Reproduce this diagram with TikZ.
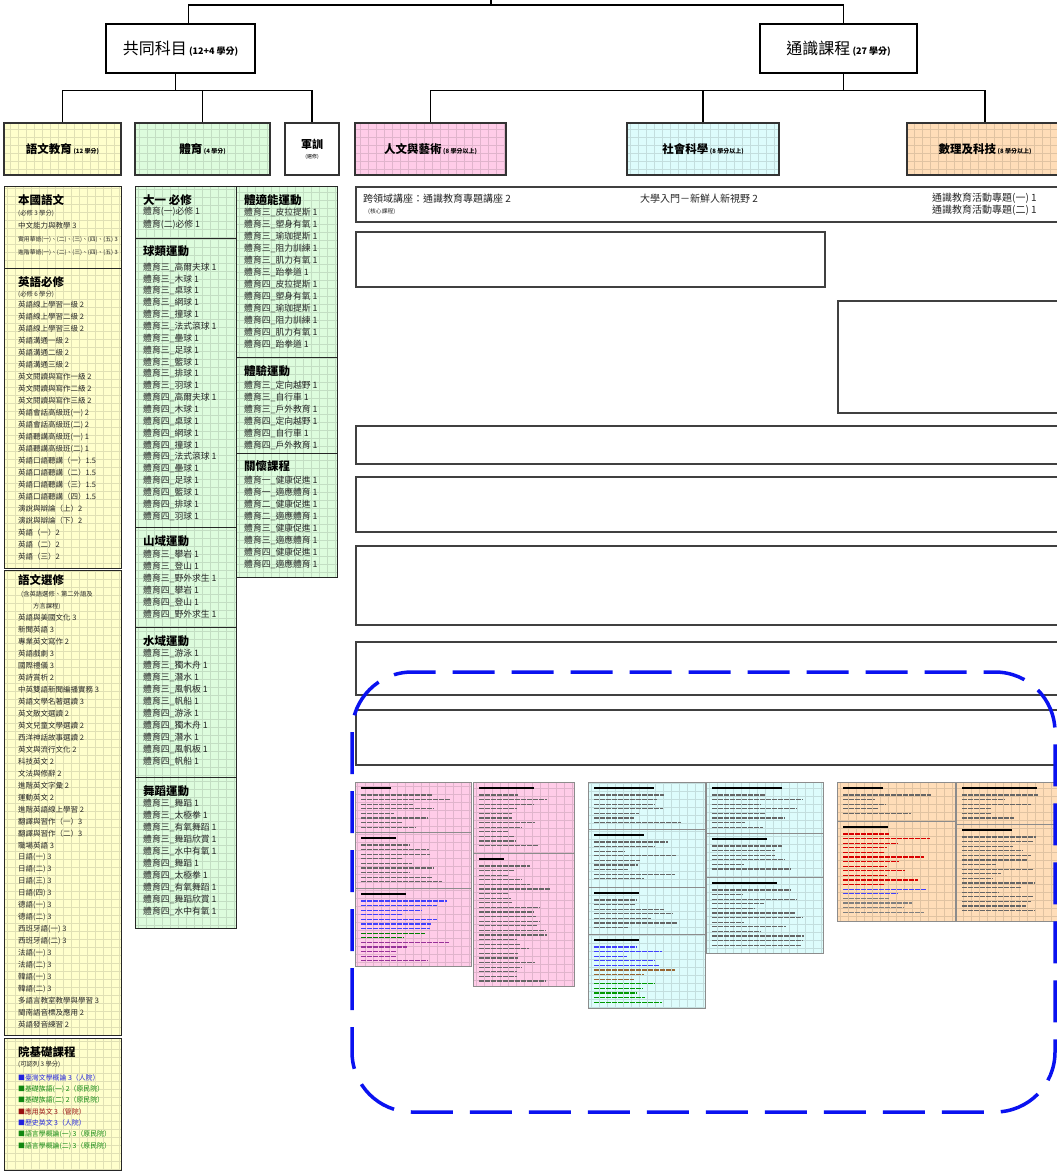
\documentclass[tikz,border=0pt]{standalone}
\usepackage{fontspec}
\setmainfont{Noto Sans CJK TC}
\usetikzlibrary{positioning}

\definecolor{yuwenbg}{HTML}{FFFFCC}
\definecolor{tiyubg}{HTML}{DDFCDD}
\definecolor{renwenbg}{HTML}{FFCCE8}
\definecolor{shehuibg}{HTML}{DDFCFC}
\definecolor{shulibg}{HTML}{FFDDB8}
\definecolor{quanblue}{HTML}{0A12F0}
\definecolor{yjblue}{HTML}{2222DD}
\definecolor{yjgreen}{HTML}{118811}
\definecolor{yjred}{HTML}{991111}

\tikzset{
  gridfill/.style={fill=#1, path picture={\draw[#1!88!black, line width=0.25pt, step=8pt]
      (path picture bounding box.south west) grid (path picture bounding box.north east);}},
  topbox/.style={draw=black, line width=1.1pt, fill=white, minimum height=49pt, inner sep=0pt},
  catbox/.style={draw=black!80, line width=1.6pt, minimum height=52pt, inner sep=0pt, align=center},
  listbox/.style={draw=black!85, line width=1.4pt, inner sep=0pt, anchor=north west},
  emptybox/.style={draw=black!75, line width=2pt, inner sep=0pt, anchor=north west},
  panel/.style={draw=black!45, line width=0.6pt, inner sep=0pt, anchor=north west},
  panelline/.style={draw=black!45, line width=0.6pt},
  head/.style={anchor=west, inner sep=0pt, font=\fontsize{11.5}{12}\selectfont\bfseries},
  item/.style={anchor=west, inner sep=0pt, text=black!85, font=\fontsize{7.5}{8}\selectfont},
  gitem/.style={item, font=\fontsize{8.8}{9}\selectfont},
  small/.style={item, font=\fontsize{6.3}{7}\selectfont},
  yjitem/.style={item, font=\fontsize{6.9}{7}\selectfont},
  tiny/.style={item, font=\fontsize{5.8}{6}\selectfont},
  toptext/.style={item, font=\fontsize{10}{11}\selectfont},
  branch/.style={line width=1.5pt},
}

\newcommand\bigtitle[2]{{\fontsize{16}{17}\selectfont #1}\ {\fontsize{9}{10}\selectfont\bfseries (#2)}}
\newcommand\cattitle[2]{{\fontsize{11.5}{12}\selectfont\bfseries #1}\,{\fontsize{6}{7}\selectfont\bfseries (#2)}}
\newcommand\minihead[3]{\draw[black, line width=1.6pt] (#1+6,#2) -- ++(#3,0);}
\newcommand\minirows[5]{%
  \foreach \k in {1,...,#3} {
    \pgfmathsetmacro\len{(#4-14)*(0.3+0.6*rnd)}
    \draw[#5, line width=1.3pt, dash pattern=on 5pt off 1pt] (#1+6,#2+4.6*\k-4.6) -- ++(\len,0);
  }}

\begin{document}
\begin{tikzpicture}[x=1pt,y=-1pt]
\useasboundingbox (0,0) rectangle (1057,1175);
\pgfmathsetseed{11}

% top levels
\coordinate (root) at (491,0);
\node[topbox, minimum width=149pt] (gong) at (180.5,48.5) {\bigtitle{共同科目}{12+4 學分}};
\node[topbox, minimum width=157pt] (tong) at (838.5,48.5) {\bigtitle{通識課程}{27 學分}};
\draw[branch] (root) -- ++(0,5) -| ([xshift=8pt]gong.north);
\draw[branch] (root) -- ++(0,5) -| ([xshift=5pt]tong.north);

\node[catbox, gridfill=yuwenbg, minimum width=117pt] (yuwen) at (62.5,149) {\cattitle{語文教育}{12 學分}};
\node[catbox, gridfill=tiyubg, minimum width=135pt] (tiyu) at (202.5,149) {\cattitle{體育}{4 學分}};
\node[catbox, fill=white, minimum width=54pt] (junxun) at (312,149)
  {{\fontsize{11}{12}\selectfont\bfseries 軍訓}\\[-2pt]{\fontsize{5}{6}\selectfont (選修)}};
\node[catbox, gridfill=renwenbg, minimum width=151pt] (renwen) at (430.5,149) {\cattitle{人文與藝術}{8 學分以上}};
\node[catbox, gridfill=shehuibg, minimum width=152pt] (shehui) at (703,149) {\cattitle{社會科學}{8 學分以上}};
\node[catbox, gridfill=shulibg, minimum width=156pt] (shuli) at (985,149) {\cattitle{數理及科技}{8 學分以上}};
\foreach \c in {yuwen,tiyu,junxun}
  \draw[branch] ([xshift=-5pt]gong.south) -- ++(0,17) -| (\c.north);
\foreach \c in {renwen,shehui,shuli}
  \draw[branch] ([xshift=5pt]tong.south) -- ++(0,17) -| (\c.north);

% 語文教育
\node[listbox, gridfill=yuwenbg, minimum width=117pt, minimum height=82pt] (benguo) at (4,186) {};
\node[listbox, gridfill=yuwenbg, minimum width=117pt, minimum height=300pt] (yingyu) at (4,268) {};
\node[listbox, gridfill=yuwenbg, minimum width=117pt, minimum height=465pt] (xuanxiu) at (4,570) {};
\node[listbox, gridfill=yuwenbg, minimum width=117pt, minimum height=132pt] (yuanji) at (4,1038) {};

\node[head] (benguoh) at (18,200) {本國語文};
\node[small] (benguo0) at (18,213) {(必修 3 學分)};
\node[item] (benguo1) at (18,226) {中文能力與教學 3};
\node[tiny] (benguo2) at (18,240) {實用華語(一)、(二)、(三)、(四)、(五) 3};
\node[tiny] (benguo3) at (18,253) {進階華語(一)、(二)、(三)、(四)、(五) 3};

\node[head] (yingyuh) at (18,282) {英語必修};
\node[small] (yingyu0) at (18,294) {(必修 6 學分)};
\foreach \t [count=\i from 0] in {英語線上學習一級 2, 英語線上學習二級 2, 英語線上學習三級 2,
    英語溝通一級 2, 英語溝通二級 2, 英語溝通三級 2, 英文閱讀與寫作一級 2, 英文閱讀與寫作二級 2,
    英文閱讀與寫作三級 2, 英語會話高級班(一) 2, 英語會話高級班(二) 2, 英語聽講高級班(一) 1,
    英語聽講高級班(二) 1, 英語口語聽講（一）1.5, 英語口語聽講（二）1.5, 英語口語聽講（三）1.5,
    英語口語聽講（四）1.5, 演說與辯論（上）2, 演說與辯論（下）2, 英語（一）2, 英語（二）2, 英語（三）2}
  \node[item] (yingyu\i) at (18,305+12*\i) {\t};

\node[head] (xuanxiuh) at (18,580) {語文選修};
\node[small] (xuanxiua) at (21,594) {(含英語選修、第二外語及};
\node[small] (xuanxiub) at (33,606) {方言課程)};
\foreach \t [count=\i from 0] in {英語與美國文化 3, 新聞英語 3, 專業英文寫作 2, 英語戲劇 3, 國際禮儀 3,
    英詩賞析 2, 中英雙語新聞編播實務 3, 英語文學名著選讀 3, 英文散文選讀 2, 英文兒童文學選讀 2,
    西洋神話故事選讀 2, 英文與流行文化 2, 科技英文 2, 文法與修辭 2, 進階英文字彙 2, 運動英文 2,
    進階英語線上學習 2, 翻譯與習作（一）3, 翻譯與習作（二）3, 職場英語 3, 日語(一) 3, 日語(二) 3,
    日語(三) 3, 日語(四) 3, 德語(一) 3, 德語(二) 3, 西班牙語(一) 3, 西班牙語(二) 3, 法語(一) 3,
    法語(二) 3, 韓語(一) 3, 韓語(二) 3, 多語言教室教學與學習 3, 閩南語音標及應用 2, 英語發音練習 2}
  \node[item] (xuanxiu\i) at (18,618+11.97*\i) {\t};

\node[head] (yuanjih) at (18,1052) {院基礎課程};
\node[small] (yuanji0) at (18,1064) {(可認列 3 學分)};
\foreach \c/\t [count=\i from 0] in {yjblue/臺灣文學概論 3（人院）, yjgreen/基礎族語(一) 2（原民院）,
    yjgreen/基礎族語(二) 2（原民院）, yjred/應用英文 3（管院）, yjblue/歷史英文 3（人院）,
    yjgreen/語言學概論(一) 3（原民院）, yjgreen/語言學概論(二) 3（原民院）}
  \node[yjitem, text=\c] (yuanji\i) at (18,1078+11.3*\i) {■\t};

% 體育
\node[listbox, gridfill=tiyubg, minimum width=101pt, minimum height=52pt] (dayi) at (135,186) {};
\node[listbox, gridfill=tiyubg, minimum width=101pt, minimum height=289pt] (qiulei) at (135,238) {};
\node[listbox, gridfill=tiyubg, minimum width=101pt, minimum height=100pt] (shanyu) at (135,527) {};
\node[listbox, gridfill=tiyubg, minimum width=101pt, minimum height=150pt] (shuiyu) at (135,627) {};
\node[listbox, gridfill=tiyubg, minimum width=101pt, minimum height=151pt] (wudao) at (135,777) {};
\node[listbox, gridfill=tiyubg, minimum width=101pt, minimum height=171pt] (tishi) at (236,186) {};
\node[listbox, gridfill=tiyubg, minimum width=101pt, minimum height=96pt] (tiyan) at (236,357) {};
\node[listbox, gridfill=tiyubg, minimum width=101pt, minimum height=124pt] (guanhuai) at (236,453) {};

\node[head] (dayih) at (143,200) {大一 必修};
\node[gitem] (dayi0) at (143,212) {體育(一)必修 1};
\node[gitem] (dayi1) at (143,225) {體育(二)必修 1};

\node[head] (qiuleih) at (143,251) {球類運動};
\foreach \t [count=\i from 0] in {三\_高爾夫球, 三\_木球, 三\_桌球, 三\_網球, 三\_撞球, 三\_法式滾球,
    三\_壘球, 三\_足球, 三\_籃球, 三\_排球, 三\_羽球, 四\_高爾夫球, 四\_木球, 四\_桌球, 四\_網球,
    四\_撞球, 四\_法式滾球, 四\_壘球, 四\_足球, 四\_籃球, 四\_排球, 四\_羽球}
  \node[gitem] (qiulei\i) at (143,267+11.86*\i) {體育\t{} 1};

\node[head] (shanyuh) at (143,541) {山域運動};
\foreach \t [count=\i from 0] in {三\_攀岩, 三\_登山, 三\_野外求生, 四\_攀岩, 四\_登山, 四\_野外求生}
  \node[gitem] (shanyu\i) at (143,554+12*\i) {體育\t{} 1};

\node[head] (shuiyuh) at (143,641) {水域運動};
\foreach \t [count=\i from 0] in {三\_游泳, 三\_獨木舟, 三\_潛水, 三\_風帆板, 三\_帆船,
    四\_游泳, 四\_獨木舟, 四\_潛水, 四\_風帆板, 四\_帆船}
  \node[gitem] (shuiyu\i) at (143,653+12*\i) {體育\t{} 1};

\node[head] (wudaoh) at (143,791) {舞蹈運動};
\foreach \t [count=\i from 0] in {三\_舞蹈, 三\_太極拳, 三\_有氧舞蹈, 三\_舞蹈欣賞, 三\_水中有氧,
    四\_舞蹈, 四\_太極拳, 四\_有氧舞蹈, 四\_舞蹈欣賞, 四\_水中有氧}
  \node[gitem] (wudao\i) at (143,803+12*\i) {體育\t{} 1};

\node[head] (tishih) at (244,200) {體適能運動};
\foreach \t [count=\i from 0] in {三\_皮拉提斯, 三\_塑身有氧, 三\_瑜珈提斯, 三\_阻力訓練, 三\_肌力有氧,
    三\_跆拳道, 四\_皮拉提斯, 四\_塑身有氧, 四\_瑜珈提斯, 四\_阻力訓練, 四\_肌力有氧, 四\_跆拳道}
  \node[gitem] (tishi\i) at (244,212+12*\i) {體育\t{} 1};

\node[head] (tiyanh) at (244,371) {體驗運動};
\foreach \t [count=\i from 0] in {三\_定向越野, 三\_自行車, 三\_戶外教育, 四\_定向越野, 四\_自行車, 四\_戶外教育}
  \node[gitem] (tiyan\i) at (244,385+12*\i) {體育\t{} 1};

\node[head] (guanhuaih) at (244,466) {關懷課程};
\foreach \t [count=\i from 0] in {一\_健康促進, 一\_適應體育, 二\_健康促進, 二\_適應體育,
    三\_健康促進, 三\_適應體育, 四\_健康促進, 四\_適應體育}
  \node[gitem] (guanhuai\i) at (244,480+12.1*\i) {體育\t{} 1};

% 通識課程
\node[emptybox, minimum width=710pt, minimum height=35pt] (kua) at (355,186) {};
\node[toptext] (kua0) at (363,199) {跨領域講座：通識教育專題講座 2};
\node[tiny] (kua1) at (368,212) {(核心課程)};
\node[toptext] (kua2) at (640,199) {大學入門－新鮮人新視野 2};
\node[toptext] (kua3) at (932,198) {通識教育活動專題(一) 1};
\node[toptext] (kua4) at (932,210) {通識教育活動專題(二) 1};

\node[emptybox, minimum width=469pt, minimum height=55pt] (kong1) at (355,231) {};
\node[emptybox, minimum width=228pt, minimum height=112pt] (kong2) at (837,300) {};
\node[emptybox, minimum width=710pt, minimum height=38pt] (kong3) at (355,425) {};
\node[emptybox, minimum width=710pt, minimum height=55pt] (kong4) at (355,476) {};
\node[emptybox, minimum width=710pt, minimum height=79pt] (kong5) at (355,545) {};
\node[emptybox, minimum width=710pt, minimum height=53pt] (kong6) at (355,641) {};
\node[emptybox, minimum width=710pt, minimum height=55pt] (kong7) at (355,709) {};

% small course tables
\foreach \px/\py/\pw/\ph/\pc [count=\i] in {355/782/116/184/renwenbg, 473/782/101/204/renwenbg,
    588/782/117/226/shehuibg, 706/782/117/171/shehuibg, 837/782/118/139/shulibg, 956/782/110/139/shulibg}
  \node[panel, gridfill=\pc, minimum width=\pw pt, minimum height=\ph pt] (pan\i) at (\px,\py) {};
\foreach \sx/\sy/\sw in {355/832/116, 355/888/116, 473/853/101, 588/829/117, 588/887/117,
    588/934/117, 706/833/117, 706/877/117, 837/821/118, 956/824/110}
  \draw[panelline] (\sx,\sy) -- ++(\sw,0);

\minihead{355}{788}{30} \minirows{355}{795}{8}{116}{black!60}
\minihead{355}{838}{35} \minirows{355}{845}{9}{116}{black!60}
\minihead{355}{894}{45} \minirows{355}{901}{7}{116}{blue!75}
\minirows{355}{933.2}{2}{116}{green!50!black} \minirows{355}{942.4}{5}{116}{violet!80}
\minihead{473}{788}{55} \minirows{473}{795}{12}{101}{black!60}
\minihead{473}{859}{25} \minirows{473}{866}{26}{101}{black!60}
\minihead{588}{788}{60} \minirows{588}{795}{7}{117}{black!60}
\minihead{588}{835}{50} \minirows{588}{842}{9}{117}{black!60}
\minihead{588}{893}{45} \minirows{588}{900}{7}{117}{black!60}
\minihead{588}{940}{45} \minirows{588}{947}{5}{117}{blue!75}
\minirows{588}{970}{3}{117}{brown!80!black} \minirows{588}{983.8}{5}{117}{green!60!black}
\minihead{706}{788}{70} \minirows{706}{795}{8}{117}{black!60}
\minihead{706}{839}{55} \minirows{706}{846}{6}{117}{black!60}
\minihead{706}{883}{65} \minirows{706}{890}{13}{117}{black!60}
\minihead{837}{788}{40} \minirows{837}{795}{5}{118}{black!60}
\minihead{837}{827}{45} \minirows{837}{834}{12}{118}{red!85!black}
\minirows{837}{889.2}{2}{118}{blue!75} \minirows{837}{898.4}{4}{118}{black!50}
\minihead{956}{788}{75} \minirows{956}{795}{6}{110}{black!60}
\minihead{956}{830}{50} \minirows{956}{837}{17}{110}{black!60}

% dashed frame
\draw[quanblue, line width=3.5pt, dash pattern=on 42pt off 17pt, rounded corners=60pt]
  (352,672) rectangle (1055,1112);
\end{tikzpicture}
\end{document}
